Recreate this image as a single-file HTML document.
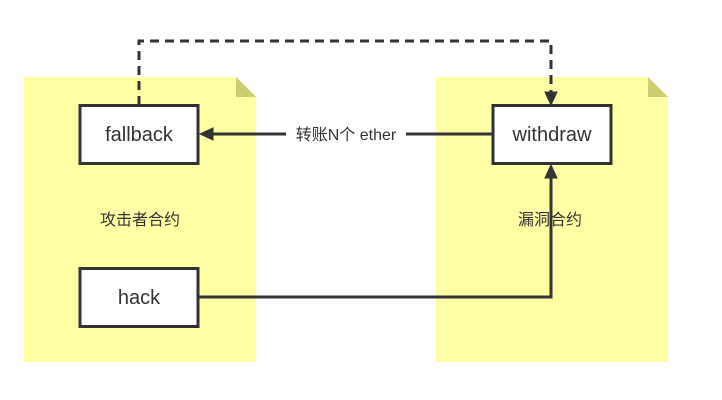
<!DOCTYPE html>
<html><head><meta charset="utf-8"><style>
html,body{margin:0;padding:0;background:#fff;}
svg{display:block;}
text{font-family:"Liberation Sans","Noto Sans CJK SC",sans-serif;fill:#333;}
</style></head><body>
<svg width="722" height="400" viewBox="0 0 722 400" xmlns="http://www.w3.org/2000/svg">
<path d="M24 77 H236 L256 97 V362 H24 Z" fill="#ffffa6"/>
<path d="M236 77 L256 97 H236 Z" fill="#cccc70"/>
<path d="M436 77 H648 L668 97 V362 H436 Z" fill="#ffffa6"/>
<path d="M648 77 L668 97 H648 Z" fill="#cccc70"/>
<text x="140" y="225" font-size="16" text-anchor="middle">攻击者合约</text>
<text x="550" y="225" font-size="16" text-anchor="middle">漏洞合约</text>
<path d="M139 105 V41 H551 V96" fill="none" stroke="#333" stroke-width="3" stroke-dasharray="9,6"/>
<path d="M545 92 L551 105 L557 92 Z" fill="#333" stroke="#333"/>
<path d="M492 134 H210" stroke="#333" stroke-width="3"/>
<path d="M213 128 L200 134 L213 140 Z" fill="#333" stroke="#333"/>
<rect x="286" y="124" width="120" height="20" fill="#fff"/>
<text x="346" y="140" font-size="16" text-anchor="middle">转账N个 ether</text>
<path d="M199 297 H551 V176" fill="none" stroke="#333" stroke-width="3"/>
<path d="M545 178 L551 165 L557 178 Z" fill="#333" stroke="#333"/>
<rect x="80" y="105.5" width="118" height="58" fill="#fff" stroke="#333" stroke-width="3"/>
<text x="139" y="141" font-size="20" text-anchor="middle">fallback</text>
<rect x="493" y="105.5" width="118" height="58" fill="#fff" stroke="#333" stroke-width="3"/>
<text x="552" y="141" font-size="20" text-anchor="middle">withdraw</text>
<rect x="80" y="268.5" width="118" height="58" fill="#fff" stroke="#333" stroke-width="3"/>
<text x="139" y="304" font-size="20" text-anchor="middle">hack</text>
</svg>
</body></html>
